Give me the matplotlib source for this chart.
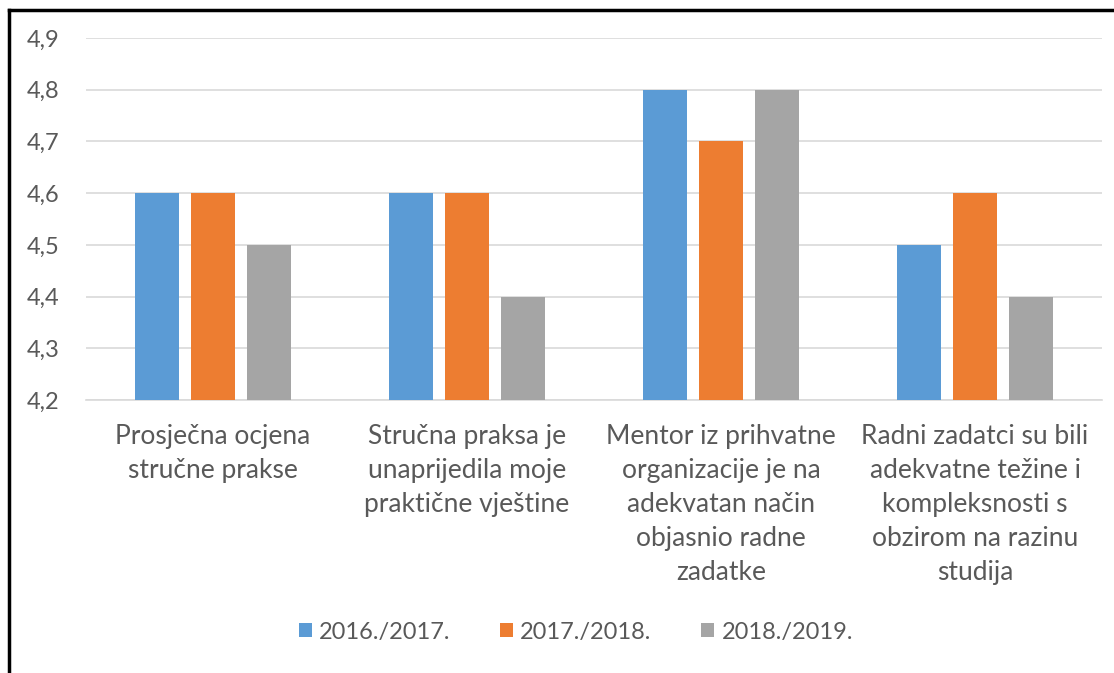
import matplotlib
matplotlib.use('Agg')
import matplotlib.pyplot as plt
from matplotlib.lines import Line2D
import numpy as np

# Mean ratings per question, three academic years
categories = ['Prosječna ocjena\nstručne prakse',
              'Stručna praksa je\nunaprijedila moje\npraktične vještine',
              'Mentor iz prihvatne\norganizacije je na\nadekvatan način\nobjasnio radne\nzadatke',
              'Radni zadatci su bili\nadekvatne težine i\nkompleksnosti s\nobzirom na razinu\nstudija']
years = ['2016./2017.', '2017./2018.', '2018./2019.']
y2017 = [4.6, 4.6, 4.8, 4.5]
y2018 = [4.6, 4.6, 4.7, 4.6]
y2019 = [4.5, 4.4, 4.8, 4.4]
yticks = [4.2, 4.3, 4.4, 4.5, 4.6, 4.7, 4.8, 4.9]

colors = ['#5B9BD5', '#ED7D31', '#A5A5A5']
txt = '#595959'
plt.rcParams['font.family'] = ['Lato', 'DejaVu Sans']

fig = plt.figure(figsize=(11.14, 6.73), dpi=100)
ax = fig.add_axes([86/1114, 1-400/673, 1016/1114, 362/673])

x = np.arange(len(categories))
w = 0.173
step = 0.22
for i, (vals, col, lab) in enumerate(zip([y2017, y2018, y2019], colors, years)):
    ax.bar(x + (i-1)*step, np.array(vals) - 4.2, bottom=4.2, width=w,
           color=col, label=lab, zorder=3)

ax.set_xlim(-0.5, len(categories)-0.5)
ax.set_ylim(4.2, 4.9)
ax.set_yticks(yticks)
ax.set_yticklabels([f'{v:.1f}'.replace('.', ',') for v in yticks])
ax.set_xticks(x)
ax.set_xticklabels(categories, linespacing=1.45)
ax.tick_params(axis='both', length=0, colors=txt)
ax.tick_params(axis='y', pad=19, labelsize=17)
ax.tick_params(axis='x', pad=17, labelsize=19)
ax.grid(axis='y', color='#D9D9D9', linewidth=1.2, zorder=0)
for s in ['top', 'right', 'left']:
    ax.spines[s].set_visible(False)
ax.spines['bottom'].set_color('#D9D9D9')
ax.spines['bottom'].set_linewidth(1.2)

leg = fig.legend(loc='center', bbox_to_anchor=(576/1114, 1-632/673), ncol=3,
                 frameon=False, fontsize=17, handlelength=0.55, handleheight=0.55,
                 handletextpad=0.3, columnspacing=2.1)
for t in leg.get_texts():
    t.set_color(txt)

# partial black frame along the left and top
fig.add_artist(Line2D([9/1114, 9/1114], [0, 1-10/673], color='black', lw=2.5,
                      transform=fig.transFigure))
fig.add_artist(Line2D([9/1114, 1], [1-10/673, 1-10/673], color='black', lw=2.5,
                      transform=fig.transFigure))

fig.savefig('out.png', dpi=100, facecolor='white')
